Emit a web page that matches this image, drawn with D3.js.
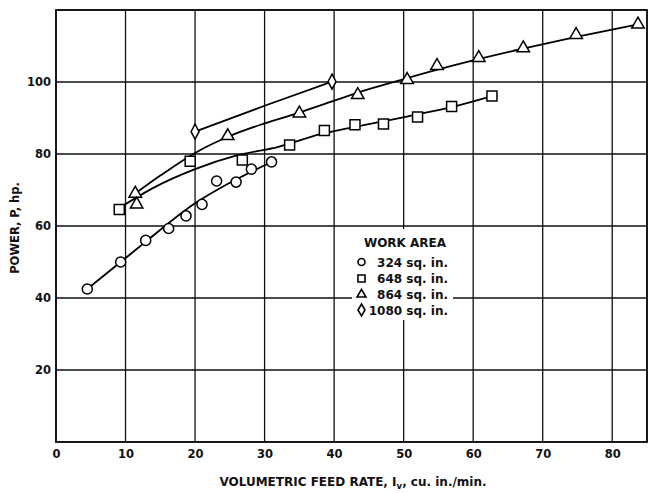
<!DOCTYPE html>
<html>
<head>
<meta charset="utf-8">
<script src="https://cdn.jsdelivr.net/npm/d3@7"></script>
<style>
  html, body { margin: 0; padding: 0; background: #fff; }
  svg { display: block; font-family: "DejaVu Sans", sans-serif; }
</style>
</head>
<body>
<svg id="chart" width="650" height="493"></svg>
<script>
// ---- data ----
const xTicks = [0, 10, 20, 30, 40, 50, 60, 70, 80];
const yTicks = [20, 40, 60, 80, 100];

const seriesNames = ["324 sq. in.", "648 sq. in.", "864 sq. in.", "1080 sq. in."];
const seriesShapes = ["circle", "square", "triangle", "diamond"];

// measured points [feed rate, power]
const pts324 = [[4.5,42.5],[9.3,50],[12.9,56],[16.2,59.3],[18.7,62.8],[21,66],[23.1,72.5],[25.9,72.2],[28.1,75.8],[31,77.8]];
const pts648 = [[9.1,64.6],[19.3,78],[26.8,78.3],[33.6,82.5],[38.6,86.5],[43,88.1],[47.1,88.3],[52,90.3],[56.9,93.2],[62.7,96.1]];
const pts864 = [[11.4,69],[11.6,66],[24.7,85],[35,91.3],[43.4,96.4],[50.5,100.6],[54.8,104.5],[60.8,106.7],[67.2,109.4],[74.8,113.1],[83.7,116]];
const pts1080 = [[20,86.2],[39.7,100.1]];

// hand-drawn fitted curves
const fit324 = [[4.5,42.5],[9.3,50],[13,55.8],[20,66.3],[25,72],[31,77.8]];
const fit648 = [[9.1,65],[14,70.6],[20,75.8],[26,79.6],[32,82],[38,85.5],[45,88.3],[52,91],[57,93.1],[62.7,96.1]];
const fit864 = [[11.4,69],[15,74],[20,80.3],[25,85],[30,88.5],[35,91.5],[40,94.8],[45,98],[50,100.8],[55,103.5],[60,106],[67,109.2],[75,112.6],[83.7,116]];
const fit1080 = [[20,86.2],[30,93.4],[39.7,100.1]];

const pointSets = [pts324, pts648, pts864, pts1080];
const fitSets = [fit324, fit648, fit864, fit1080];

// ---- layout ----
const FONT = "'DejaVu Sans', sans-serif";
const svg = d3.select("#chart");
const L = 56, R = 647, T = 10, B = 442;
const x = d3.scaleLinear().domain([0, 85]).range([L, R]);
const y = d3.scaleLinear().domain([0, 120]).range([B, T]);

// gridlines
const grid = svg.append("g");
grid.selectAll("line.v").data(xTicks.filter(d => d > 0)).join("line")
  .attr("x1", d => x(d)).attr("x2", d => x(d)).attr("y1", T).attr("y2", B)
  .attr("stroke", "#111").attr("stroke-width", 1.3);
grid.selectAll("line.h").data(yTicks).join("line")
  .attr("x1", L).attr("x2", R).attr("y1", d => y(d)).attr("y2", d => y(d))
  .attr("stroke", "#111").attr("stroke-width", 1.3);

// frame
svg.append("rect").attr("x", L).attr("y", T).attr("width", R - L).attr("height", B - T)
  .attr("fill", "none").attr("stroke", "#000").attr("stroke-width", 1.8);

// axes (labels only)
const xAxis = svg.append("g").attr("transform", `translate(0,${B})`)
  .call(d3.axisBottom(x).tickValues(xTicks).tickSize(0).tickPadding(8).tickFormat(d3.format("d")));
const yAxis = svg.append("g").attr("transform", `translate(${L},0)`)
  .call(d3.axisLeft(y).tickValues(yTicks).tickSize(0).tickPadding(5).tickFormat(d3.format("d")));
[xAxis, yAxis].forEach(a => {
  a.select(".domain").remove();
  a.selectAll("text").attr("font-family", FONT)
    .attr("font-size", 11.5).attr("font-weight", "bold").attr("fill", "#111");
});

// legend background (masks gridlines)
svg.append("rect").attr("x", 352).attr("y", 229).attr("width", 101).attr("height", 91).attr("fill", "#fff");

// symbols
const diamondType = {
  draw(ctx, size) {
    const w = 4, h = 7.5;
    ctx.moveTo(0, -h); ctx.lineTo(w, 0); ctx.lineTo(0, h); ctx.lineTo(-w, 0); ctx.closePath();
  }
};
const symbolFor = {
  circle: d3.symbol().type(d3.symbolCircle).size(80),
  square: d3.symbol().type(d3.symbolSquare).size(100),
  triangle: d3.symbol().type(d3.symbolTriangle).size(68),
  diamond: d3.symbol().type(diamondType).size(1)
};
const legendSymbolFor = {
  circle: d3.symbol().type(d3.symbolCircle).size(38),
  square: d3.symbol().type(d3.symbolSquare).size(50),
  triangle: d3.symbol().type(d3.symbolTriangle).size(34),
  diamond: d3.symbol().type({draw(ctx){ ctx.moveTo(0,-6); ctx.lineTo(3.5,0); ctx.lineTo(0,6); ctx.lineTo(-3.5,0); ctx.closePath(); }}).size(1)
};

// fitted curves
const line = d3.line().x(d => x(d[0])).y(d => y(d[1])).curve(d3.curveMonotoneX);
fitSets.forEach(f => {
  svg.append("path").attr("d", line(f)).attr("fill", "none")
    .attr("stroke", "#000").attr("stroke-width", 1.8);
});

// markers
pointSets.forEach((pts, i) => {
  svg.append("g").selectAll("path").data(pts).join("path")
    .attr("transform", d => `translate(${x(d[0])},${y(d[1])})`)
    .attr("d", symbolFor[seriesShapes[i]]())
    .attr("fill", "#fff").attr("stroke", "#000").attr("stroke-width", 1.5);
});

// legend
svg.append("text").attr("x", 405).attr("y", 247).attr("text-anchor", "middle")
  .attr("font-family", FONT).attr("font-size", 12).attr("font-weight", "bold").attr("fill", "#111").text("WORK AREA");
const legY = [266.5, 283, 299, 314.5];
seriesNames.forEach((name, i) => {
  svg.append("path").attr("transform", `translate(361.5,${legY[i] - 4.5})`)
    .attr("d", legendSymbolFor[seriesShapes[i]]())
    .attr("fill", "#fff").attr("stroke", "#000").attr("stroke-width", 1.6);
  svg.append("text").attr("x", 448).attr("y", legY[i]).attr("text-anchor", "end")
    .attr("font-family", FONT).attr("font-size", 12).attr("font-weight", "bold").attr("fill", "#111").text(name);
});

// axis titles
const xt = svg.append("text").attr("x", 353).attr("y", 486).attr("text-anchor", "middle")
  .attr("font-family", FONT).attr("font-size", 12).attr("font-weight", "bold").attr("fill", "#111");
xt.append("tspan").text("VOLUMETRIC FEED RATE, I");
xt.append("tspan").attr("font-size", 8.5).attr("dy", 3).text("v");
xt.append("tspan").attr("dy", -3).text(", cu. in./min.");

svg.append("text").attr("transform", "translate(19,228) rotate(-90)").attr("text-anchor", "middle")
  .attr("font-family", FONT).attr("font-size", 11.5).attr("font-weight", "bold").attr("fill", "#111").text("POWER, P, hp.");
</script>
</body>
</html>
